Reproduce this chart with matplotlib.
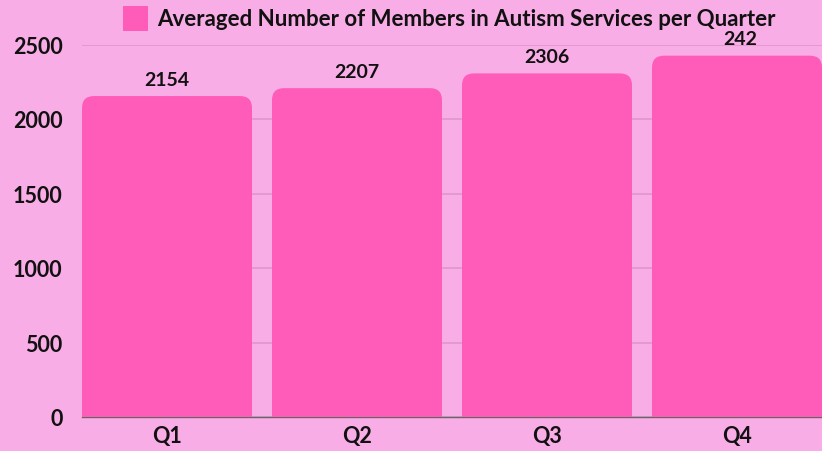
import matplotlib
matplotlib.use("Agg")
import matplotlib.pyplot as plt
from matplotlib.path import Path
from matplotlib.patches import PathPatch, Rectangle

quarters = ["Q1", "Q2", "Q3", "Q4"]
members = [2154, 2207, 2306, 2425]
value_labels = ["2154", "2207", "2306", "242"]
yticks = [0, 500, 1000, 1500, 2000, 2500]
series_name = "Averaged Number of Members in Autism Services per Quarter"

BG = "#F9ADE6"
BAR = "#FF5BB9"
GRID = "#DE97CC"
FONT = ["Lato", "DejaVu Sans"]

W, H = 822, 452
fig = plt.figure(figsize=(W / 100, H / 100), dpi=100, facecolor=BG)
ax = fig.add_axes([82 / W, (H - 418) / H, (W - 82) / W, (418 - 45.5) / H])
ax.set_facecolor(BG)

bar_w = 170 / 190
ax.set_xlim(-bar_w / 2, 3 + (W - 82 - 85 - 570) / 190)
ax.set_ylim(0, 2500)

bars = ax.bar(range(len(quarters)), members, width=bar_w, color=BAR, zorder=2)

# Replace each rectangle with a version that has rounded top corners
fig.canvas.draw()
r = 12
for b in bars:
    (x0, y0), (x1, y1) = ax.transData.transform(
        [(b.get_x(), 0), (b.get_x() + b.get_width(), b.get_height())])
    verts = [(x0, y0), (x0, y1 - r), (x0, y1), (x0 + r, y1),
             (x1 - r, y1), (x1, y1), (x1, y1 - r), (x1, y0), (x0, y0)]
    codes = [Path.MOVETO, Path.LINETO, Path.CURVE3, Path.CURVE3,
             Path.LINETO, Path.CURVE3, Path.CURVE3, Path.LINETO, Path.CLOSEPOLY]
    patch = PathPatch(Path(verts, codes), transform=None, facecolor=BAR,
                      edgecolor="none", zorder=2)
    fig.add_artist(patch)
    b.set_visible(False)

for i, (v, lab) in enumerate(zip(members, value_labels)):
    ax.annotate(lab, (i, v), xytext=(2 if i == 3 else 0, 6),
                textcoords="offset points",
                ha="center", va="bottom", fontsize=14, fontweight="bold",
                family=FONT, color="#111111", zorder=3)

ax.set_yticks(yticks)
ax.set_yticklabels([str(t) for t in yticks])
ax.set_xticks(range(len(quarters)))
ax.set_xticklabels(quarters)
for lbl in ax.get_yticklabels() + ax.get_xticklabels():
    lbl.set_family(FONT)
    lbl.set_fontweight("bold")
    lbl.set_fontsize(15.5)
    lbl.set_color("#111111")
ax.tick_params(axis="both", length=0)
ax.tick_params(axis="y", pad=14)
ax.tick_params(axis="x", pad=6)

ax.grid(axis="y", color=GRID, linewidth=1.2, zorder=1)
ax.set_axisbelow(True)
for s in ["top", "right", "left"]:
    ax.spines[s].set_visible(False)
ax.spines["bottom"].set_color("#666666")
ax.spines["bottom"].set_linewidth(1)
ax.spines["bottom"].set_zorder(1)

# Legend-style header
fig.add_artist(Rectangle((123 / W, (H - 32) / H), 25 / W, 25 / H,
                         transform=fig.transFigure, facecolor=BAR,
                         edgecolor="none"))
fig.text(157 / W, (H - 19.5) / H, series_name, ha="left", va="center",
         fontsize=16, fontweight="bold", family=FONT, color="#111111")

fig.savefig("out.png", dpi=100, facecolor=BG)
